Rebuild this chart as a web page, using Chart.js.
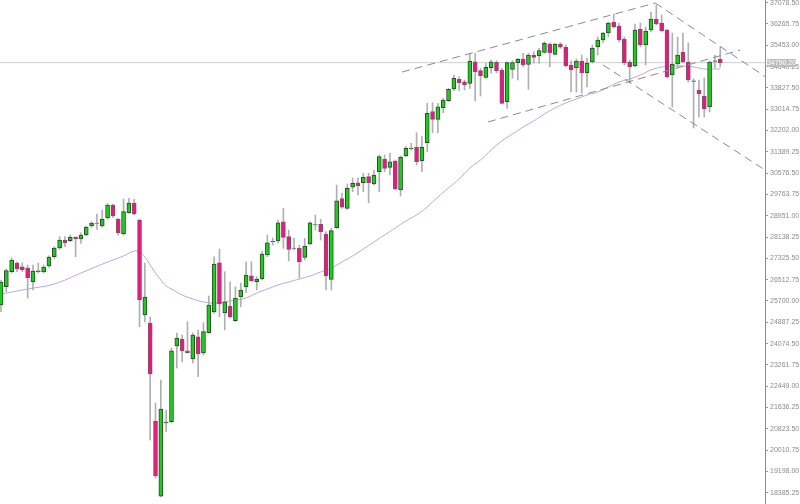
<!DOCTYPE html>
<html>
<head>
<meta charset="utf-8">
<script src="https://cdn.jsdelivr.net/npm/chart.js@4.4.0/dist/chart.umd.min.js"></script>
<style>
  html, body { margin: 0; padding: 0; background: #fff; }
</style>
</head>
<body>
<canvas id="chart" width="800" height="504"></canvas>
<script>
// velas diarias (precio)
const opens = [25545,26243,26815,27148,27006,26957,26434,26820,26804,27033,
  27388,27720,28025,27998,28140,28063,28216,28559,28655,28559,
  28864,29360,28815,28254,29066,29437,28788,25164,24859,21120,
  18257,21043,21093,23981,24248,23802,23485,24336,23714,24489,
  25278,27159,25240,25507,24946,25850,26232,26663,26434,26537,
  27453,27960,27987,28723,28151,27708,27708,27365,27872,28597,
  28624,28254,26526,28494,29601,29234,30036,30211,30211,30440,
  30161,30631,31104,30798,31039,29932,31230,31505,31561,31050,
  31737,32920,32630,33072,33339,33786,34156,34064,34003,34827,
  34484,34232,34598,34804,34511,33301,34537,34789,34919,34728,
  35083,35045,35186,35502,35109,35502,35377,34701,34587,34854,
  34396,34816,35388,35655,35922,36342,36189,35693,34816,34663,
  36075,35464,36037,36456,36304,36037,34320,34739,35197,34816,
  34079,33748,33519,33099,34835,34930];
const highs = [26499,26919,27338,27197,27159,27071,27071,27148,27071,27426,
  27770,28151,28151,28216,28151,28303,28559,28723,29017,29170,
  29425,29398,28853,29589,29616,29578,28826,27148,25088,21807,
  22684,21540,23905,24477,24401,24908,24477,24592,24870,25888,
  27388,27682,26815,26434,26243,26385,27197,27197,26625,27579,
  28216,28101,28788,29234,28406,28090,27834,28090,28723,28979,
  28815,28342,28471,30123,29807,30161,30390,30390,30570,30570,
  30696,31268,31268,31333,31077,31230,31585,31714,32118,31966,
  33240,33263,33240,33431,33812,34320,34255,34129,35148,35148,
  34575,34766,34892,34865,34575,34827,34865,34957,35148,35148,
  35209,35338,35590,35552,35529,35552,35464,34865,34930,35083,
  34968,35464,35769,35960,36342,36647,36304,35769,34892,36265,
  36304,36151,36723,36990,36609,36075,35922,35769,35922,35540,
  34167,34129,34205,34854,35083,35388];
const lows = [25290,26053,26766,26815,26815,25812,26118,26766,26766,26983,
  27327,27670,27770,27960,27388,27899,28178,28509,28433,28509,
  28815,28891,28216,28216,29043,28979,24717,24897,20395,18945,
  18220,20700,21043,23142,23371,23703,23333,22810,23638,24466,
  25228,25088,24592,25050,24908,25480,26015,26434,26118,26499,
  27388,27834,27911,27708,27224,27644,26564,27262,27834,28406,
  28025,26118,26118,28471,29234,29196,29868,29742,29868,29448,
  30123,29868,30631,30505,29932,29704,31203,31459,30886,30631,
  31394,32118,32118,32881,33301,33721,33721,33748,33812,33328,
  33519,34194,34385,34407,33213,33049,34194,34129,34636,33774,
  34766,34766,35148,34636,35083,35338,34625,33671,33671,33633,
  33862,34777,35083,35541,35769,36113,35579,34701,34015,34625,
  35388,34701,35960,36227,35960,34205,33099,34625,34777,34053,
  32298,32717,32717,32908,34587,34625];
const closes = [26423,26854,27262,26919,26881,26587,26842,26845,26995,27376,
  27720,28025,27922,28140,28063,28216,28521,28674,28674,28826,
  29360,28941,28303,29105,29437,29017,25736,25850,22913,19021,
  21578,21082,23802,24286,23790,23726,24401,23676,24527,25545,
  27110,25583,25671,25088,25812,26118,26690,26472,26537,27491,
  27922,27975,28685,28128,27670,27720,27197,27796,28685,28609,
  28342,26652,28380,29524,29273,29997,30188,30097,30417,30211,
  30505,31203,30760,31012,29971,31180,31523,31530,31012,31561,
  32859,32630,33110,33366,33774,34194,34026,33938,34854,34446,
  34293,34613,34827,34484,33240,34789,34789,34919,34701,35083,
  34995,35247,35529,35170,35502,35377,34675,34511,34854,34396,
  34777,35350,35655,35922,36304,36151,35655,34777,34625,36037,
  35464,35998,36456,36265,35998,34243,34739,35083,34816,34129,
  34102,33595,33023,34816,34862,34790];

// media movil (indice de vela, valor)
const maIdx = [0,5,10,15,20,23,25,26,27,28,29,30,31,32,
  34,36,38,40,42,44,46,48,50,52,54,56,58,60,62,64,66,68,70,72,74,76,78,80,
  82,84,86,88,90,92,94,96,98,100,102,104,106,108,110,112,114,116,118,120,
  122,124,126,128,130,132,134,135];
const maVals = [25965,26156,26347,26766,27186,27415,27605,27567,27376,27071,26766,26499,26270,26156,
  25927,25774,25660,25622,25660,25736,25812,26003,26156,26308,26423,26537,26652,26804,26957,27186,
  27415,27682,27949,28216,28483,28750,28979,29284,29666,30009,30352,30772,31077,31459,31802,32069,
  32336,32565,32832,33061,33251,33404,33557,33671,33862,34053,34167,34320,34510,34625,34663,34663,
  34625,34549,34549,34549];

// lineas de tendencia: [x1, y1, x2, y2] en (indice, precio)
const trendLines = [
  [75.3, 34434, 122.8, 37067],
  [91.4, 32527, 138.75, 35274],
  [122.8, 37067, 146, 33908],
  [113.0, 34701, 146, 30352]
];

const lastPrice = 34790.20;
const tickValues = [18385.25,19198.00,20010.75,20823.50,21636.25,22449.00,23261.75,24074.50,
  24887.25,25700.00,26512.75,27325.50,28138.25,28951.00,29763.75,30576.50,31389.25,
  32202.00,33014.75,33827.50,34640.25,35453.00,36265.75,37078.50];

const verde = '#1fcb1f', rosa = '#e8187e';

const datasets = [
  {
    type: 'line',
    data: [{x: -2, y: lastPrice}, {x: 150, y: lastPrice}],
    borderColor: '#cfcfcf', borderWidth: 1, pointRadius: 0, order: 6
  },
  {
    type: 'line',
    data: maIdx.map((x, k) => ({x: x, y: maVals[k]})),
    borderColor: '#bba6e0', borderWidth: 1, pointRadius: 0, tension: 0.4, order: 5
  },
  {
    type: 'bar',
    data: lows.map((l, i) => ({x: i, y: [l, highs[i]]})),
    backgroundColor: '#b0b0b0', borderWidth: 0, barThickness: 1, grouped: false, order: 4
  },
  {
    type: 'bar',
    data: opens.map((o, i) => ({x: i, y: [o, closes[i]]})),
    backgroundColor: opens.map((o, i) => closes[i] >= o ? verde : rosa),
    borderColor: opens.map((o, i) => closes[i] >= o ? '#2b4a2b' : '#8c4c6c'),
    borderWidth: 1, borderSkipped: false, barThickness: 4, grouped: false, order: 3
  }
];
trendLines.forEach(t => datasets.push({
  type: 'line',
  data: [{x: t[0], y: t[1]}, {x: t[2], y: t[3]}],
  borderColor: '#8a8a8a', borderWidth: 1, borderDash: [8, 5], pointRadius: 0, order: 1
}));

// etiqueta del precio actual
const etiquetaPrecio = {
  id: 'etiquetaPrecio',
  afterDraw(chart) {
    const ctx = chart.ctx;
    const y = chart.scales.y.getPixelForValue(lastPrice);
    ctx.save();
    ctx.fillStyle = '#bdbdbd';
    ctx.fillRect(767, Math.round(y) - 4, 29, 8);
    ctx.fillStyle = '#ffffff';
    ctx.font = '7px "Liberation Sans"';
    ctx.textAlign = 'center';
    ctx.textBaseline = 'middle';
    ctx.fillText(lastPrice.toFixed(2), 781.5, Math.round(y) + 0.5);
    ctx.restore();
  }
};

new Chart(document.getElementById('chart'), {
  type: 'bar',
  data: { datasets: datasets },
  options: {
    responsive: false,
    animation: false,
    layout: { padding: 0 },
    plugins: { legend: { display: false }, tooltip: { enabled: false } },
    scales: {
      x: {
        type: 'linear', display: false, offset: false,
        min: -0.19, max: 143.4,
        grid: { offset: false }
      },
      y: {
        position: 'right',
        min: 17954, max: 37181,
        afterBuildTicks: s => { s.ticks = tickValues.map(v => ({value: v})); },
        afterFit: s => { s.width = 35; s.paddingTop = 0; s.paddingBottom = 0; },
        ticks: {
          callback: v => Number(v).toFixed(2),
          font: { family: 'Liberation Sans', size: 7 },
          color: '#8c8c8c', padding: 2, autoSkip: false
        },
        grid: { drawOnChartArea: false, tickLength: 3, color: '#999' },
        border: { color: '#8c8c8c' }
      }
    }
  },
  plugins: [etiquetaPrecio]
});
</script>
</body>
</html>
